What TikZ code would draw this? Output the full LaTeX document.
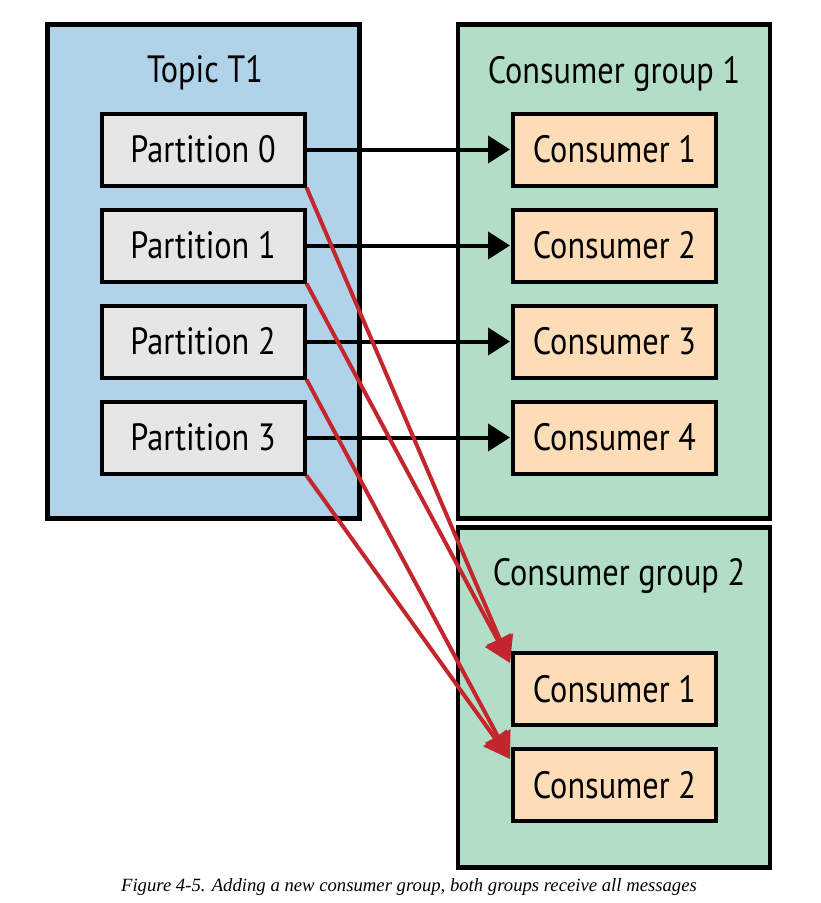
\documentclass[tikz,border=0pt]{standalone}
\usepackage{fontspec}
\setmainfont{PT Sans}[FakeStretch=0.85]
\newfontfamily\capfont{Liberation Serif}
\usetikzlibrary{arrows.meta,calc}
\definecolor{topicblue}{RGB}{176,211,233}
\definecolor{groupgreen}{RGB}{178,222,200}
\definecolor{partgray}{RGB}{230,230,230}
\definecolor{peach}{RGB}{253,221,184}
\definecolor{arrowred}{RGB}{196,38,46}
\begin{document}
\begin{tikzpicture}[x=1pt,y=-1pt,
  container/.style={draw=black, line width=4.5pt, minimum width=312pt, inner sep=0pt},
  box/.style={draw=black, line width=4pt, minimum width=203pt, minimum height=72pt, inner sep=0pt,
    font=\fontsize{38}{42}\selectfont, text height=26.5pt, text depth=0pt},
  part/.style={box, fill=partgray},
  cons/.style={box, fill=peach},
  title/.style={font=\fontsize{38}{42}\selectfont, anchor=base, inner sep=0pt},
  blackarrow/.style={draw=black, line width=4pt, -{Triangle[length=22pt,width=27pt]}, shorten >=1pt},
  redarrow/.style={draw=arrowred, line width=4pt, -{Triangle[length=26pt,width=28pt]}},
]
\useasboundingbox (0,0) rectangle (820,903);
% containers
\node[container, fill=topicblue, minimum height=494pt] (topic) at (203.5,271.5) {};
\node[container, fill=groupgreen, minimum height=494pt] (g1) at (614,271.5) {};
\node[container, fill=groupgreen, minimum height=340pt] (g2) at (614,697.5) {};
% titles
\node[title] (ttopic) at (205,82) {Topic T1};
\node[title] (tg1) at (614,83) {Consumer group 1};
\node[title] (tg2) at (619,585) {Consumer group 2};
% partitions
\node[part] (p0) at (203,149.5) {Partition 0};
\node[part] (p1) at (203,245.5) {Partition 1};
\node[part] (p2) at (203,341.5) {Partition 2};
\node[part] (p3) at (203,437.5) {Partition 3};
% group 1 consumers
\node[cons] (c11) at (614.5,149.5) {Consumer 1};
\node[cons] (c12) at (614.5,245.5) {Consumer 2};
\node[cons] (c13) at (614.5,341.5) {Consumer 3};
\node[cons] (c14) at (614.5,437.5) {Consumer 4};
% group 2 consumers
\node[cons] (c21) at (614.5,689) {Consumer 1};
\node[cons] (c22) at (614.5,785) {Consumer 2};
% black arrows
\draw[blackarrow] (p0.east) -- (c11.west);
\draw[blackarrow] (p1.east) -- (c12.west);
\draw[blackarrow] (p2.east) -- (c13.west);
\draw[blackarrow] (p3.east) -- (c14.west);
% red arrows
\coordinate (t1) at ($(c21.north west)+(-1,12)$);
\coordinate (t2) at ($(c22.north west)+(-1,12)$);
\draw[redarrow] (p0.south east) -- (t1);
\draw[redarrow] (p1.south east) -- (t1);
\draw[redarrow] (p2.south east) -- (t2);
\draw[redarrow] (p3.south east) -- (t2);
% caption
\node[anchor=base, inner sep=0pt, font=\capfont\itshape\fontsize{18.7}{21}\selectfont] (cap) at (409,891)
  {Figure 4-5. Adding a new consumer group, both groups receive all messages};
\end{tikzpicture}
\end{document}
